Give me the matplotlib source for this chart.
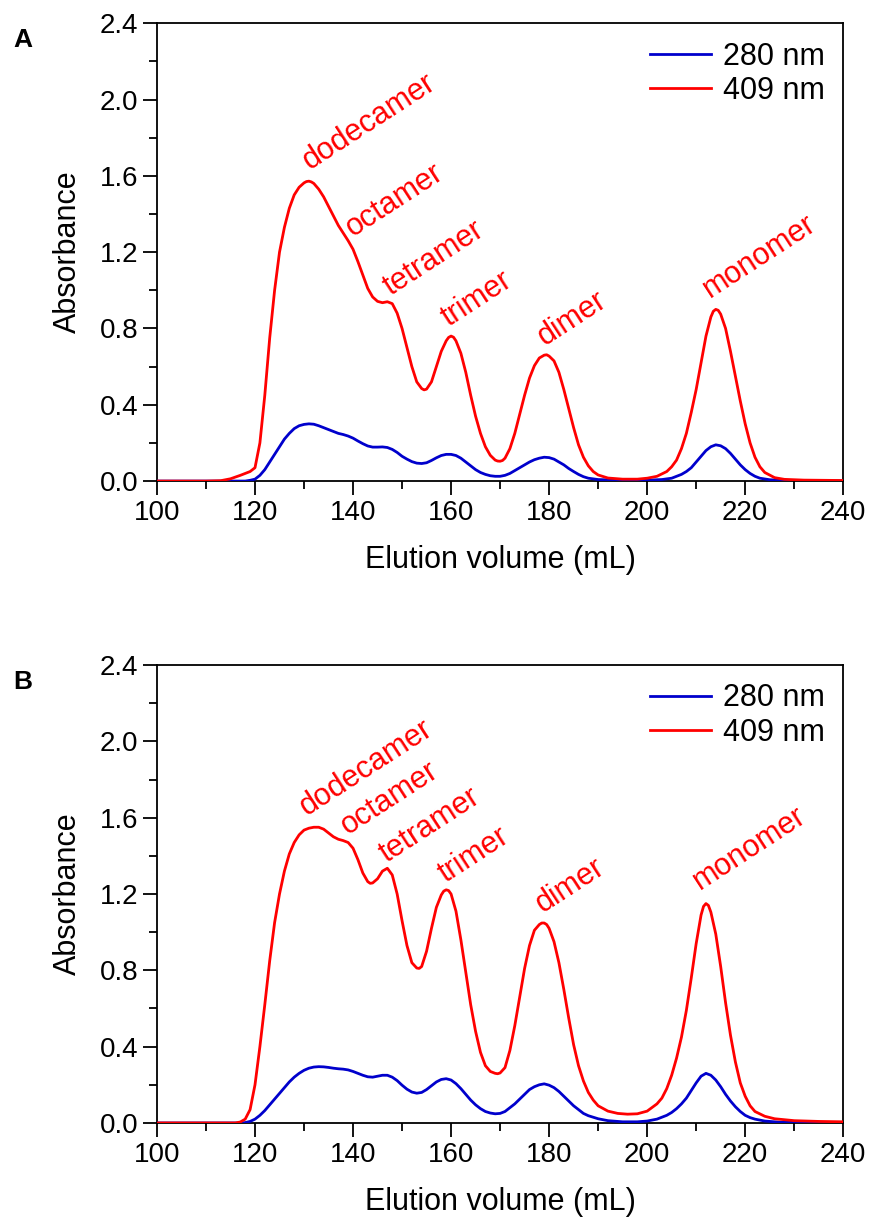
import numpy as np
import matplotlib
matplotlib.use('Agg')
from matplotlib import pyplot as plt
from matplotlib.ticker import MultipleLocator, FormatStrFormatter

plt.rcParams['font.family'] = ['Liberation Sans', 'DejaVu Sans']

# ---- panel A ----
a_red_x = [100, 105, 110, 113, 115, 117, 119, 120, 121, 122, 123, 124, 125, 126, 127, 128, 129, 130, 130.5,
           131, 131.5, 132, 133, 134, 135, 136, 137, 138, 139, 140, 141, 142, 143, 144, 145, 146, 147, 148,
           149, 150, 151, 152, 153, 154, 154.5, 155, 156, 157, 158, 159, 159.5, 160, 160.5, 161, 162, 163, 164,
           165, 166, 167, 168, 169, 169.5, 170, 170.5, 171, 172, 173, 174, 175, 176, 177, 178, 179, 179.5, 180,
           181, 182, 183, 184, 185, 186, 187, 188, 189, 190, 192, 195, 198, 200, 202, 204, 205, 206, 207, 208,
           209, 210, 211, 212, 213, 213.5, 214, 214.5, 215, 216, 217, 218, 219, 220, 221, 222, 223, 224, 226,
           228, 232, 240]
a_red_y = [0, 0, 0, 0.002, 0.012, 0.03, 0.05, 0.07, 0.2, 0.45, 0.75, 1.0, 1.2, 1.33, 1.43, 1.5, 1.54, 1.563, 1.57,
           1.572, 1.568, 1.56, 1.53, 1.49, 1.44, 1.39, 1.34, 1.30, 1.26, 1.215, 1.15, 1.08, 1.01, 0.965, 0.942, 0.935, 0.94, 0.93,
           0.88, 0.80, 0.70, 0.60, 0.52, 0.485, 0.478, 0.482, 0.52, 0.60, 0.68, 0.735, 0.753, 0.76, 0.754, 0.735, 0.67, 0.57, 0.45,
           0.34, 0.25, 0.18, 0.135, 0.11, 0.105, 0.104, 0.108, 0.12, 0.17, 0.25, 0.35, 0.45, 0.54, 0.605, 0.645, 0.66, 0.662, 0.655,
           0.63, 0.57, 0.48, 0.38, 0.28, 0.19, 0.125, 0.08, 0.05, 0.032, 0.016, 0.01, 0.01, 0.015, 0.025, 0.05, 0.075, 0.11, 0.17, 0.25,
           0.36, 0.48, 0.62, 0.76, 0.86, 0.89, 0.90, 0.895, 0.875, 0.80, 0.68, 0.55, 0.42, 0.30, 0.20, 0.125, 0.075, 0.045, 0.018,
           0.009, 0.005, 0.003]

a_blue_x = [100, 110, 118, 119, 120, 121, 122, 123, 124, 125, 126, 127, 128, 129, 130, 131, 132, 133, 134,
            135, 136, 137, 138, 139, 140, 141, 142, 143, 144, 145, 146, 147, 148, 149, 150, 151, 152, 153,
            154, 155, 156, 157, 158, 159, 160, 161, 162, 163, 164, 165, 166, 167, 168, 169, 170, 171, 172,
            173, 174, 175, 176, 177, 178, 179, 180, 181, 182, 183, 184, 185, 186, 187, 188, 190, 195, 200,
            203, 205, 207, 208, 209, 210, 211, 212, 213, 214, 215, 216, 217, 218, 219, 220, 221, 222, 223,
            225, 228, 240]
a_blue_y = [0, 0, 0, 0.004, 0.01, 0.03, 0.06, 0.10, 0.14, 0.18, 0.22, 0.25, 0.275, 0.29, 0.297, 0.30, 0.298, 0.29, 0.28,
            0.27, 0.26, 0.25, 0.244, 0.236, 0.225, 0.21, 0.196, 0.184, 0.178, 0.178, 0.179, 0.176, 0.166, 0.15, 0.13, 0.115, 0.102, 0.094,
            0.092, 0.096, 0.108, 0.122, 0.134, 0.14, 0.14, 0.134, 0.12, 0.10, 0.08, 0.06, 0.045, 0.035, 0.028, 0.025, 0.025, 0.03, 0.04,
            0.055, 0.07, 0.085, 0.10, 0.112, 0.12, 0.125, 0.123, 0.115, 0.10, 0.085, 0.066, 0.05, 0.035, 0.023, 0.015, 0.008, 0.004, 0.005,
            0.008, 0.015, 0.035, 0.05, 0.07, 0.10, 0.13, 0.16, 0.18, 0.19, 0.185, 0.17, 0.145, 0.115, 0.085, 0.06, 0.04, 0.025, 0.015,
            0.007, 0.003, 0]

# ---- panel B ----
b_red_x = [100, 110, 116, 117, 118, 119, 120, 121, 122, 123, 124, 125, 126, 127, 128, 129, 130, 131, 132,
           133, 134, 135, 136, 137, 138, 139, 140, 141, 142, 143, 143.5, 144, 145, 146, 147, 148, 149, 150, 151,
           152, 153, 153.5, 154, 155, 156, 157, 158, 158.5, 159, 159.5, 160, 161, 162, 163, 164, 165, 166, 167,
           168, 169, 169.5, 170, 171, 172, 173, 174, 175, 176, 177, 178, 178.5, 179, 179.5, 180, 181, 182, 183,
           184, 185, 186, 187, 188, 189, 190, 192, 194, 196, 198, 200, 202, 203, 204, 205, 206, 207, 208, 209,
           210, 211, 211.5, 212, 212.5, 213, 214, 215, 216, 217, 218, 219, 220, 221, 222, 224, 226, 230, 235, 240]
b_red_y = [0, 0, 0, 0.005, 0.02, 0.07, 0.2, 0.4, 0.62, 0.85, 1.05, 1.2, 1.32, 1.41, 1.47, 1.51, 1.535, 1.545, 1.55,
           1.55, 1.54, 1.52, 1.50, 1.487, 1.48, 1.47, 1.44, 1.38, 1.31, 1.265, 1.256, 1.258, 1.28, 1.32, 1.335, 1.30, 1.20, 1.06, 0.93,
           0.84, 0.812, 0.81, 0.82, 0.90, 1.02, 1.13, 1.195, 1.215, 1.222, 1.218, 1.20, 1.11, 0.96, 0.79, 0.62, 0.48, 0.37, 0.30,
           0.27, 0.26, 0.258, 0.262, 0.29, 0.38, 0.51, 0.66, 0.81, 0.93, 1.01, 1.04, 1.048, 1.048, 1.04, 1.02, 0.95, 0.84, 0.70,
           0.55, 0.41, 0.30, 0.22, 0.16, 0.12, 0.09, 0.062, 0.05, 0.046, 0.048, 0.062, 0.10, 0.13, 0.18, 0.25, 0.34, 0.45, 0.59, 0.76,
           0.94, 1.09, 1.135, 1.15, 1.14, 1.105, 0.99, 0.82, 0.63, 0.46, 0.32, 0.21, 0.14, 0.09, 0.06, 0.035, 0.022, 0.012, 0.008, 0.006]

b_blue_x = [100, 110, 117, 118, 119, 120, 121, 122, 123, 124, 125, 126, 127, 128, 129, 130, 131, 132, 133,
            134, 135, 136, 137, 138, 139, 140, 141, 142, 143, 144, 145, 146, 147, 148, 149, 150, 151, 152,
            153, 154, 155, 156, 157, 158, 159, 160, 161, 162, 163, 164, 165, 166, 167, 168, 169, 170, 171,
            172, 173, 174, 175, 176, 177, 178, 179, 180, 181, 182, 183, 184, 185, 186, 187, 188, 190, 192,
            195, 198, 200, 202, 204, 205, 206, 207, 208, 209, 210, 211, 212, 213, 214, 215, 216, 217, 218,
            219, 220, 221, 222, 224, 227, 232, 240]
b_blue_y = [0, 0, 0, 0.002, 0.008, 0.02, 0.04, 0.065, 0.095, 0.125, 0.155, 0.185, 0.215, 0.24, 0.26, 0.276, 0.287, 0.293, 0.295,
            0.294, 0.291, 0.287, 0.284, 0.282, 0.278, 0.27, 0.26, 0.25, 0.242, 0.24, 0.245, 0.25, 0.25, 0.24, 0.222, 0.198, 0.177, 0.162,
            0.156, 0.16, 0.175, 0.195, 0.215, 0.228, 0.232, 0.225, 0.206, 0.18, 0.15, 0.12, 0.095, 0.075, 0.06, 0.052, 0.048, 0.05, 0.06,
            0.08, 0.10, 0.125, 0.15, 0.175, 0.19, 0.2, 0.205, 0.198, 0.185, 0.165, 0.14, 0.115, 0.09, 0.07, 0.05, 0.038, 0.022, 0.012,
            0.006, 0.006, 0.01, 0.02, 0.04, 0.055, 0.075, 0.10, 0.13, 0.17, 0.21, 0.245, 0.26, 0.25, 0.225, 0.19, 0.15, 0.115, 0.085,
            0.06, 0.04, 0.028, 0.02, 0.01, 0.004, 0.002, 0.001]

species = ['dodecamer', 'octamer', 'tetramer', 'trimer', 'dimer', 'monomer']
# label anchor (x, y) in data units, baseline start
a_label_pos = [(131.2, 1.63), (140.0, 1.28), (147.6, 0.97), (159.4, 0.81), (179.2, 0.71), (212.9, 0.96)]
b_label_pos = [(130.6, 1.61), (139.0, 1.51), (146.9, 1.36), (158.8, 1.26), (178.8, 1.10), (210.8, 1.22)]

fig = plt.figure(figsize=(8.72, 12.21), dpi=100)

panels = [
    ('A', [0.180, 0.606, 0.787, 0.375], a_blue_x, a_blue_y, a_red_x, a_red_y, a_label_pos),
    ('B', [0.180, 0.0803, 0.787, 0.375], b_blue_x, b_blue_y, b_red_x, b_red_y, b_label_pos),
]

for letter, rect, bx, by, rx, ry, lpos in panels:
    ax = fig.add_axes(rect)
    ax.plot(bx, by, color='#0000cc', lw=2.0, label='280 nm', zorder=3)
    ax.plot(rx, ry, color='#ff0000', lw=2.0, label='409 nm', zorder=4)
    ax.set_xlim(100, 240)
    ax.set_ylim(0, 2.4)
    ax.xaxis.set_major_locator(MultipleLocator(20))
    ax.xaxis.set_minor_locator(MultipleLocator(10))
    ax.yaxis.set_major_locator(MultipleLocator(0.4))
    ax.yaxis.set_minor_locator(MultipleLocator(0.2))
    ax.yaxis.set_major_formatter(FormatStrFormatter('%.1f'))
    ax.tick_params(which='both', direction='out', top=False, right=False, width=1.3, labelsize=20)
    ax.tick_params(which='major', length=10)
    ax.tick_params(which='minor', length=6)
    for sp in ax.spines.values():
        sp.set_linewidth(1.3)
    ax.set_xlabel('Elution volume (mL)', fontsize=22, labelpad=14)
    ax.set_ylabel('Absorbance', fontsize=22, labelpad=12)

    for name, (tx, ty) in zip(species, lpos):
        ax.text(tx, ty, name, color='#ff0000', fontsize=22, rotation=33,
                rotation_mode='anchor', ha='left', va='baseline')

    ax.legend(loc='upper right', frameon=False, fontsize=22, handlelength=2.0,
              handletextpad=0.4, labelspacing=0.15, borderaxespad=0.2)

    fig.text(0.015, rect[1] + rect[3] - 0.014, letter, fontsize=19, fontweight='bold',
             ha='left', va='center')

fig.savefig('out.png', dpi=100)
